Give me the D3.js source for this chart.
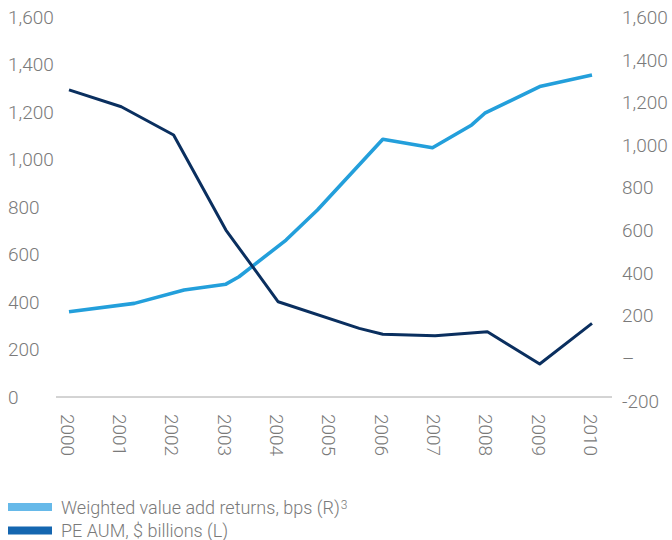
<!DOCTYPE html>
<html>
<head>
<meta charset="utf-8">
<script src="https://cdn.jsdelivr.net/npm/d3@7"></script>
<style>
  html, body { margin: 0; padding: 0; background: #ffffff; }
  svg text { font-family: Roboto, "Liberation Sans", Arial, sans-serif; font-weight: 300; fill: #7a7a7a; }
</style>
</head>
<body>
<svg id="chart" width="672" height="540"></svg>
<script>
// Category axis
const years = [2000, 2001, 2002, 2003, 2004, 2005, 2006, 2007, 2008, 2009, 2010];

// PE AUM, $ billions (left axis)
const aumYears  = [2000, 2001, 2002, 2003, 2004, 2005.55, 2006, 2007, 2008, 2009, 2010];
const aumValues = [1293, 1222, 1103, 703, 401, 289, 264, 258, 275, 139, 310];

// Weighted value add returns, bps (right axis)
const retYears  = [2000, 2001.25, 2002.2, 2003, 2003.25, 2004.15, 2004.75, 2006, 2006.95, 2007.7, 2007.95, 2009, 2010];
const retValues = [219, 258, 321, 348, 383, 555, 696, 1028, 988, 1095, 1150, 1275, 1329];

// Tick labels
const leftTicks  = [0, 200, 400, 600, 800, 1000, 1200, 1400, 1600];
const rightTicks = [-200, 0, 200, 400, 600, 800, 1000, 1200, 1400, 1600];

// Legend entries
const legendItems = [
  { label: "Weighted value add returns, bps (R)", sup: "3", color: "#66b9e9" },
  { label: "PE AUM, $ billions (L)", sup: "", color: "#1466b0" }
];

const svg = d3.select("#chart");

const x  = d3.scaleLinear().domain([2000, 2010]).range([69, 592]);
const yL = d3.scaleLinear().domain([0, 1600]).range([397, 17]);
const yR = d3.scaleLinear().domain([-200, 1600]).range([401, 17.3]);

const fmtL = d3.format(",");
const fmtR = d => d === 0 ? "\u2013" : (d < 0 ? "-" : "") + d3.format(",")(Math.abs(d));

// Baseline
svg.append("line")
  .attr("x1", 56).attr("x2", 612)
  .attr("y1", yL(0)).attr("y2", yL(0))
  .attr("stroke", "#a8a8a8").attr("stroke-width", 1);

// Left value labels
const gL = svg.append("g").attr("transform", "translate(8,0)")
  .call(d3.axisRight(yL).tickValues(leftTicks).tickSize(0).tickPadding(0).tickFormat(fmtL));
gL.select(".domain").remove();
gL.selectAll("text").attr("font-size", 19).attr("fill", "#7a7a7a")
  .style("font-family", "Roboto, 'Liberation Sans', Arial, sans-serif").style("font-weight", 300);

// Right value labels
const gR = svg.append("g").attr("transform", "translate(622,0)")
  .call(d3.axisRight(yR).tickValues(rightTicks).tickSize(0).tickPadding(0).tickFormat(fmtR));
gR.select(".domain").remove();
gR.selectAll("text").attr("font-size", 19).attr("fill", "#7a7a7a")
  .style("font-family", "Roboto, 'Liberation Sans', Arial, sans-serif").style("font-weight", 300);

// Year labels, rotated to read downward
const gX = svg.append("g").attr("transform", `translate(0,${yL(0)})`)
  .call(d3.axisBottom(x).tickValues(years).tickSize(0).tickFormat(d3.format("d")));
gX.select(".domain").remove();
gX.selectAll("text")
  .attr("transform", "rotate(90)")
  .attr("x", 17).attr("y", 2).attr("dy", "0.35em")
  .style("text-anchor", "start")
  .attr("font-size", 19).attr("fill", "#7a7a7a")
  .style("font-family", "Roboto, 'Liberation Sans', Arial, sans-serif").style("font-weight", 300);

// Series lines
const aumLine = d3.line().x(d => x(d[0])).y(d => yL(d[1]));
const retLine = d3.line().x(d => x(d[0])).y(d => yR(d[1]));

svg.append("path")
  .datum(d3.zip(retYears, retValues))
  .attr("d", retLine)
  .attr("fill", "none").attr("stroke", "#239fdb").attr("stroke-width", 3.6)
  .attr("stroke-linejoin", "round");

svg.append("path")
  .datum(d3.zip(aumYears, aumValues))
  .attr("d", aumLine)
  .attr("fill", "none").attr("stroke", "#0a2f5f").attr("stroke-width", 3)
  .attr("stroke-linejoin", "round");

// Legend
const leg = svg.append("g").selectAll("g").data(legendItems).join("g")
  .attr("transform", (d, i) => `translate(8,${503 + i * 23.5})`);
leg.append("rect").attr("width", 44).attr("height", 8).attr("fill", d => d.color);
const lt = leg.append("text").attr("x", 53).attr("y", 10.5)
  .attr("font-size", 18).attr("fill", "#7a7a7a");
lt.append("tspan").text(d => d.label);
lt.append("tspan").text(d => d.sup).attr("dx", 1).attr("dy", -5).attr("font-size", 12);
</script>
</body>
</html>
